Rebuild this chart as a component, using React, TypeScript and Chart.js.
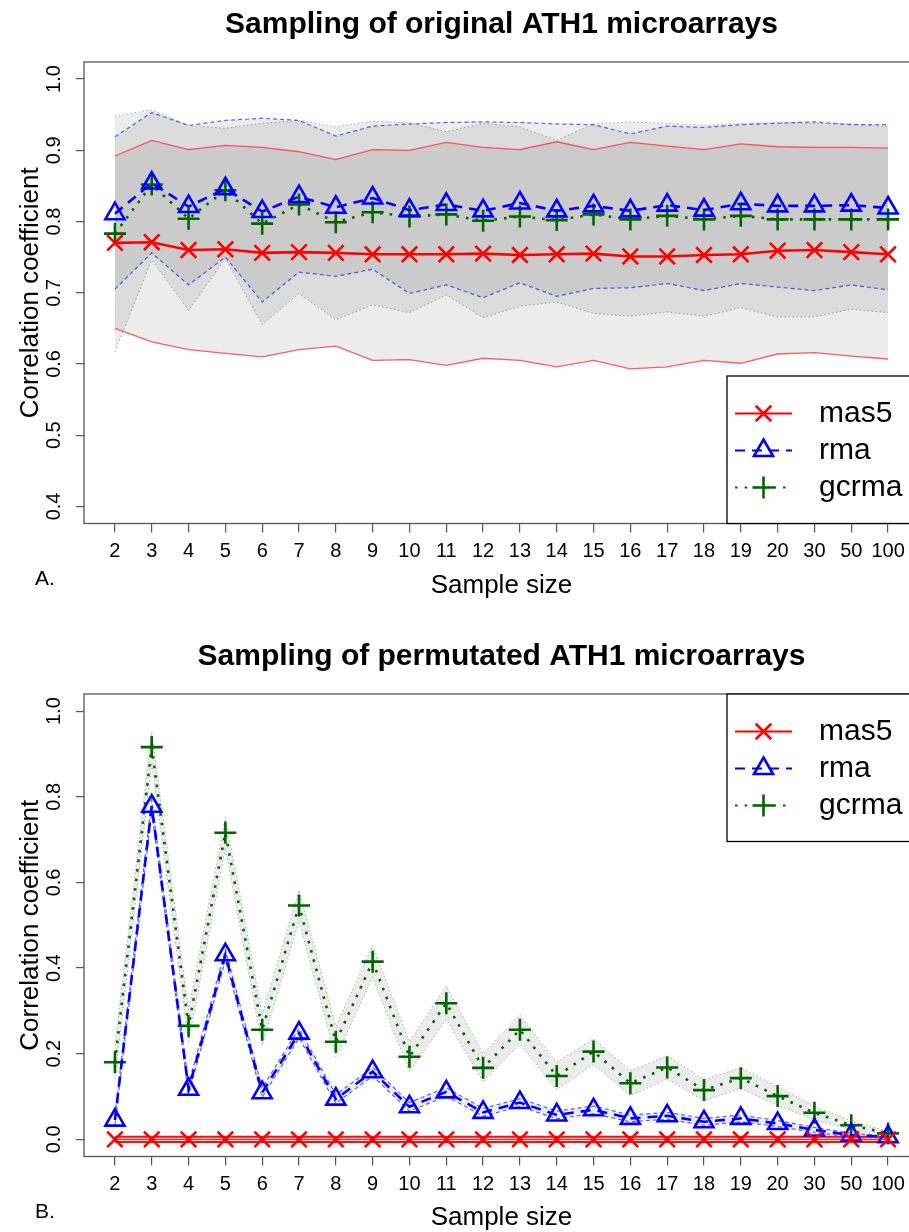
import React, { useEffect, useRef } from "react";
import { Chart, registerables } from "chart.js";

Chart.register(...registerables);

const FONT = '"Liberation Sans", Arial, Helvetica, sans-serif';

// ---------- categories & ticks ----------
const sampleSizes = ["2", "3", "4", "5", "6", "7", "8", "9", "10", "11", "12", "13", "14", "15", "16", "17", "18", "19", "20", "30", "50", "100"];
const yTicksOriginal = [0.4, 0.5, 0.6, 0.7, 0.8, 0.9, 1.0];
const yTicksPermutated = [0.0, 0.2, 0.4, 0.6, 0.8, 1.0];

// ---------- Panel A: original ATH1 microarrays ----------
const origMas5 = [0.770, 0.771, 0.760, 0.761, 0.756, 0.757, 0.756, 0.754, 0.754, 0.754, 0.755, 0.753, 0.754, 0.755, 0.751, 0.751, 0.753, 0.754, 0.759, 0.760, 0.757, 0.754];
const origMas5Upper = [0.892, 0.914, 0.901, 0.907, 0.904, 0.898, 0.887, 0.901, 0.900, 0.911, 0.904, 0.901, 0.912, 0.901, 0.911, 0.906, 0.901, 0.909, 0.905, 0.904, 0.904, 0.903];
const origMas5Lower = [0.650, 0.631, 0.620, 0.615, 0.610, 0.620, 0.625, 0.605, 0.606, 0.598, 0.608, 0.605, 0.596, 0.605, 0.593, 0.596, 0.605, 0.601, 0.614, 0.616, 0.611, 0.607];

const origRma = [0.811, 0.854, 0.821, 0.846, 0.814, 0.835, 0.820, 0.833, 0.816, 0.824, 0.815, 0.826, 0.815, 0.822, 0.815, 0.823, 0.816, 0.825, 0.822, 0.822, 0.823, 0.819];
const origRmaUpper = [0.919, 0.953, 0.935, 0.942, 0.945, 0.942, 0.920, 0.934, 0.937, 0.939, 0.940, 0.939, 0.937, 0.936, 0.923, 0.934, 0.932, 0.936, 0.938, 0.940, 0.936, 0.936];
const origRmaLower = [0.705, 0.756, 0.711, 0.750, 0.687, 0.729, 0.723, 0.733, 0.699, 0.711, 0.693, 0.714, 0.695, 0.706, 0.707, 0.713, 0.703, 0.713, 0.708, 0.703, 0.711, 0.704];

const origGcrma = [0.783, 0.852, 0.804, 0.844, 0.797, 0.824, 0.799, 0.813, 0.807, 0.810, 0.801, 0.807, 0.802, 0.810, 0.803, 0.808, 0.803, 0.808, 0.803, 0.803, 0.803, 0.803];
const origGcrmaUpper = [0.948, 0.957, 0.935, 0.931, 0.938, 0.942, 0.933, 0.941, 0.939, 0.926, 0.938, 0.933, 0.914, 0.937, 0.940, 0.938, 0.935, 0.938, 0.939, 0.938, 0.937, 0.933];
const origGcrmaLower = [0.617, 0.746, 0.675, 0.748, 0.655, 0.699, 0.662, 0.683, 0.672, 0.697, 0.665, 0.681, 0.687, 0.671, 0.667, 0.673, 0.667, 0.679, 0.666, 0.666, 0.677, 0.672];

// ---------- Panel B: permutated ATH1 microarrays ----------
const permMas5 = [0, 0, 0, 0, 0, 0, 0, 0, 0, 0, 0, 0, 0, 0, 0, 0, 0, 0, 0, 0, 0, 0];
const permMas5Upper = [0.006, 0.006, 0.006, 0.006, 0.006, 0.006, 0.006, 0.006, 0.006, 0.006, 0.006, 0.006, 0.006, 0.006, 0.006, 0.006, 0.006, 0.006, 0.006, 0.006, 0.006, 0.006];
const permMas5Lower = [-0.006, -0.006, -0.006, -0.006, -0.006, -0.006, -0.006, -0.006, -0.006, -0.006, -0.006, -0.006, -0.006, -0.006, -0.006, -0.006, -0.006, -0.006, -0.006, -0.006, -0.006, -0.006];

const permRma = [0.045, 0.778, 0.117, 0.431, 0.109, 0.248, 0.094, 0.158, 0.076, 0.111, 0.063, 0.086, 0.057, 0.069, 0.049, 0.055, 0.041, 0.049, 0.037, 0.022, 0.010, 0.006];
const permRmaUpper = [0.056, 0.792, 0.129, 0.443, 0.120, 0.259, 0.104, 0.168, 0.086, 0.121, 0.072, 0.095, 0.066, 0.078, 0.057, 0.063, 0.049, 0.057, 0.044, 0.028, 0.014, 0.008];
const permRmaLower = [0.034, 0.764, 0.105, 0.419, 0.098, 0.237, 0.084, 0.148, 0.066, 0.101, 0.054, 0.077, 0.048, 0.060, 0.041, 0.047, 0.033, 0.041, 0.030, 0.016, 0.006, 0.003];

const permGcrma = [0.180, 0.916, 0.265, 0.716, 0.256, 0.546, 0.228, 0.415, 0.193, 0.318, 0.167, 0.256, 0.148, 0.205, 0.131, 0.168, 0.115, 0.143, 0.101, 0.062, 0.033, 0.014];
const permGcrmaUpper = [0.220, 0.952, 0.302, 0.752, 0.292, 0.582, 0.264, 0.452, 0.228, 0.358, 0.200, 0.290, 0.180, 0.235, 0.160, 0.195, 0.140, 0.167, 0.123, 0.078, 0.043, 0.019];
const permGcrmaLower = [0.140, 0.880, 0.228, 0.680, 0.220, 0.510, 0.192, 0.378, 0.158, 0.280, 0.134, 0.222, 0.116, 0.175, 0.102, 0.141, 0.090, 0.119, 0.079, 0.046, 0.023, 0.009];

// ---------- styling ----------
const RED = "#FF0000";
const BLUE = "#0000FF";
const GREEN = "#006400";
const SHADE = "rgba(0,0,0,0.075)";

const toPoints = (vals: number[]) => vals.map((v, i) => ({ x: i + 1, y: v }));

function drawMarker(ctx: CanvasRenderingContext2D, style: string, x: number, y: number, r: number) {
  ctx.beginPath();
  if (style === "crossRot") {
    const d = r * Math.SQRT1_2;
    ctx.moveTo(x - d, y - d); ctx.lineTo(x + d, y + d);
    ctx.moveTo(x + d, y - d); ctx.lineTo(x - d, y + d);
  } else if (style === "cross") {
    ctx.moveTo(x - r, y); ctx.lineTo(x + r, y);
    ctx.moveTo(x, y - r); ctx.lineTo(x, y + r);
  } else {
    ctx.moveTo(x, y - r);
    ctx.lineTo(x + r * 0.866, y + r * 0.5);
    ctx.lineTo(x - r * 0.866, y + r * 0.5);
    ctx.closePath();
  }
  ctx.stroke();
}

const rStylePlugin = {
  id: "rStyle",
  afterDraw(chart: any, _args: any, opts: any) {
    const { ctx, chartArea: ca } = chart;
    ctx.save();
    // plot box
    ctx.setLineDash([]);
    ctx.strokeStyle = "#555";
    ctx.lineWidth = 1.3;
    ctx.strokeRect(ca.left, ca.top, ca.right - ca.left, ca.bottom - ca.top);
    // legend box (R style)
    const items = chart.data.datasets.filter((d: any) => d.inLegend);
    const bw = 192;
    const bh = 147.5;
    const bx = ca.right - bw;
    const by = opts.legendAt === "bottomright" ? ca.bottom - bh : ca.top;
    ctx.fillStyle = "#fff";
    ctx.fillRect(bx, by, bw, bh);
    ctx.strokeStyle = "#000";
    ctx.lineWidth = 1.3;
    ctx.strokeRect(bx, by, bw, bh);
    items.forEach((d: any, i: number) => {
      const y = by + 37.5 + i * 37;
      ctx.strokeStyle = d.legendColor;
      ctx.lineWidth = 2.2;
      ctx.setLineDash(d.borderDash || []);
      ctx.beginPath();
      ctx.moveTo(bx + 8, y);
      ctx.lineTo(bx + 65, y);
      ctx.stroke();
      ctx.setLineDash([]);
      ctx.lineWidth = d.pointBorderWidth;
      drawMarker(ctx, d.pointStyle, bx + 36.5, y, d.pointRadius);
      ctx.fillStyle = "#000";
      ctx.font = `30px ${FONT}`;
      ctx.textBaseline = "middle";
      ctx.textAlign = "left";
      ctx.fillText(d.label, bx + 92, y);
    });
    // panel letter
    ctx.fillStyle = "#000";
    ctx.font = `21px ${FONT}`;
    ctx.textBaseline = "alphabetic";
    ctx.textAlign = "left";
    ctx.fillText(opts.panel, 35, opts.panelY);
    ctx.restore();
  },
};

type PanelDef = {
  title: string;
  mas5: number[]; mas5U: number[]; mas5L: number[];
  rma: number[]; rmaU: number[]; rmaL: number[];
  gcrma: number[]; gcrmaU: number[]; gcrmaL: number[];
  yTicks: number[];
  yMin: number; yMax: number;
  height: number;
  titlePadTop: number;
  titlePadBottom: number;
  xScaleHeight: number;
  xTitlePadBottom: number;
  legendAt: string;
  panel: string;
  panelY: number;
  mas5BandColor: string;
  mas5BandFill: string;
  mas5BandWidth: number;
  mas5Width: number;
};

function buildConfig(p: PanelDef): any {
  const mean = (label: string, vals: number[], color: string, dash: number[], style: string, width: number) => ({
    label,
    data: toPoints(vals),
    borderColor: color,
    legendColor: color,
    borderWidth: width,
    borderDash: dash,
    pointStyle: style,
    pointRadius: 11,
    pointHoverRadius: 11,
    pointBorderWidth: 2.6,
    pointBorderColor: color,
    pointBackgroundColor: "rgba(0,0,0,0)",
    fill: false,
    tension: 0,
    order: 0,
    inLegend: true,
  });
  const bandLine = (vals: number[], color: string, dash: number[], width: number, fillTarget: number | null, fillColor: string) => ({
    label: "",
    data: toPoints(vals),
    borderColor: color,
    borderWidth: width,
    borderDash: dash,
    pointRadius: 0,
    pointHoverRadius: 0,
    backgroundColor: fillColor,
    fill: fillTarget === null ? false : { target: fillTarget, above: fillColor, below: fillColor },
    tension: 0,
    order: 1,
    inLegend: false,
  });

  const datasets = [
    mean("mas5", p.mas5, RED, [], "crossRot", p.mas5Width),
    mean("rma", p.rma, BLUE, [10, 7], "triangle", 2.6),
    mean("gcrma", p.gcrma, GREEN, [2.6, 7], "cross", 2.6),
    // bands: lower at idx n, upper at idx n+1 filling to lower
    bandLine(p.mas5L, p.mas5BandColor, [], p.mas5BandWidth, null, SHADE),   // 3
    bandLine(p.mas5U, p.mas5BandColor, [], p.mas5BandWidth, 3, p.mas5BandFill), // 4
    bandLine(p.rmaL, "rgba(40,40,255,0.75)", [4, 3], 1.2, null, SHADE),    // 5
    bandLine(p.rmaU, "rgba(40,40,255,0.75)", [4, 3], 1.2, 5, SHADE),       // 6
    bandLine(p.gcrmaL, "rgba(80,110,80,0.5)", [1.5, 2.5], 1, null, SHADE),  // 7
    bandLine(p.gcrmaU, "rgba(80,110,80,0.5)", [1.5, 2.5], 1, 7, SHADE),     // 8
  ];
  if (p.mas5Width < 2) datasets[0].legendColor = RED;

  return {
    type: "line",
    data: { datasets },
    plugins: [rStylePlugin],
    options: {
      responsive: false,
      animation: false,
      events: [],
      layout: { padding: { left: 0, right: 41, top: 0, bottom: 0 } },
      plugins: {
        legend: { display: false },
        tooltip: { enabled: false },
        title: {
          display: true,
          text: p.title,
          color: "#000",
          fullSize: false,
          font: { family: FONT, size: 30, weight: "bold" },
          padding: { top: p.titlePadTop, bottom: p.titlePadBottom },
        },
        rStyle: { legendAt: p.legendAt, panel: p.panel, panelY: p.panelY },
      },
      scales: {
        x: {
          type: "linear",
          min: 0.16,
          max: 22.84,
          afterBuildTicks: (s: any) => {
            s.ticks = sampleSizes.map((_, i) => ({ value: i + 1 }));
          },
          afterFit: (s: any) => {
            s.height = p.xScaleHeight;
          },
          ticks: {
            autoSkip: false,
            maxRotation: 0,
            minRotation: 0,
            padding: 7,
            color: "#000",
            font: { family: FONT, size: 20 },
            callback: (v: any) => sampleSizes[Math.round(v) - 1] ?? "",
          },
          grid: { display: true, drawOnChartArea: false, drawTicks: true, tickLength: 9, color: "#555", lineWidth: 1.2 },
          border: { display: false },
          title: {
            display: true,
            text: "Sample size",
            color: "#000",
            font: { family: FONT, size: 26 },
            padding: { top: 0, bottom: p.xTitlePadBottom },
          },
        },
        y: {
          type: "linear",
          min: p.yMin,
          max: p.yMax,
          afterBuildTicks: (s: any) => {
            s.ticks = p.yTicks.map((v) => ({ value: v }));
          },
          afterFit: (s: any) => {
            s.width = 84;
          },
          ticks: {
            minRotation: 90,
            maxRotation: 90,
            crossAlign: "center",
            padding: 8,
            color: "#000",
            font: { family: FONT, size: 20 },
            callback: (v: any) => Number(v).toFixed(1),
          },
          grid: { display: true, drawOnChartArea: false, drawTicks: true, tickLength: 8, color: "#555", lineWidth: 1.2 },
          border: { display: false },
          title: {
            display: true,
            text: "Correlation coefficient",
            color: "#000",
            font: { family: FONT, size: 26 },
            padding: { top: 15, bottom: 0 },
          },
        },
      },
    },
  };
}

const panelA: PanelDef = {
  title: "Sampling of original ATH1 microarrays",
  mas5: origMas5, mas5U: origMas5Upper, mas5L: origMas5Lower,
  rma: origRma, rmaU: origRmaUpper, rmaL: origRmaLower,
  gcrma: origGcrma, gcrmaU: origGcrmaUpper, gcrmaL: origGcrmaLower,
  yTicks: yTicksOriginal,
  yMin: 0.376, yMax: 1.024,
  height: 616,
  titlePadTop: 6.5,
  titlePadBottom: 19.5,
  xScaleHeight: 92.5,
  xTitlePadBottom: 14.5,
  legendAt: "bottomright",
  panel: "A.",
  panelY: 584.5,
  mas5BandColor: "rgba(255,40,40,0.75)",
  mas5BandFill: SHADE,
  mas5BandWidth: 1.3,
  mas5Width: 2.6,
};

const panelB: PanelDef = {
  title: "Sampling of permutated ATH1 microarrays",
  mas5: permMas5, mas5U: permMas5Upper, mas5L: permMas5Lower,
  rma: permRma, rmaU: permRmaUpper, rmaL: permRmaLower,
  gcrma: permGcrma, gcrmaU: permGcrmaUpper, gcrmaL: permGcrmaLower,
  yTicks: yTicksPermutated,
  yMin: -0.04, yMax: 1.04,
  height: 660,
  titlePadTop: 22.5,
  titlePadBottom: 19.5,
  xScaleHeight: 119.5,
  xTitlePadBottom: 42.5,
  legendAt: "topright",
  panel: "B.",
  panelY: 601.5,
  mas5BandColor: "rgba(255,0,0,0.95)",
  mas5BandFill: "rgba(255,150,150,0.3)",
  mas5BandWidth: 2,
  mas5Width: 1,
};

function Panel({ def, top }: { def: PanelDef; top: number }) {
  const ref = useRef<HTMLCanvasElement | null>(null);
  useEffect(() => {
    if (!ref.current) return;
    const chart = new Chart(ref.current, buildConfig(def));
    return () => chart.destroy();
  }, [def]);
  return (
    <canvas
      ref={ref}
      width={960}
      height={def.height}
      style={{ position: "absolute", left: 0, top, width: 960, height: def.height, display: "block" }}
    />
  );
}

export default function App() {
  return (
    <div
      style={{
        position: "absolute",
        left: 0,
        top: 0,
        width: 909,
        height: 1232,
        overflow: "hidden",
        background: "#fff",
      }}
    >
      <Panel def={panelA} top={0} />
      <Panel def={panelB} top={616} />
    </div>
  );
}
